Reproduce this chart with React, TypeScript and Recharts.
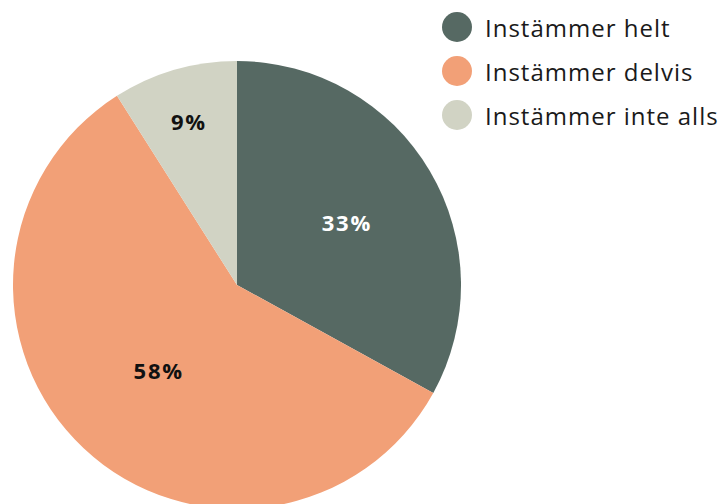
import React from "react";
import { PieChart, Pie, Cell, Legend } from "recharts";

const LABELS = ["Instämmer helt", "Instämmer delvis", "Instämmer inte alls"];
const VALUES = [33, 58, 9];
const COLORS = ["#566963", "#F2A077", "#D1D3C4"];
const LABEL_COLORS = ["#ffffff", "#111111", "#111111"];
// how far out each percent label sits, as a share of the radius
const LABEL_RADIUS = [0.57, 0.51, 0.77];

const data = LABELS.map((name, i) => ({ name, value: VALUES[i] }));

const FONT = "'Open Sans', sans-serif";
const RADIAN = Math.PI / 180;

const renderLabel = (props: any) => {
  const { cx, cy, midAngle, outerRadius, index, percent } = props;
  const r = outerRadius * LABEL_RADIUS[index];
  const x = cx + r * Math.cos(-midAngle * RADIAN);
  const y = cy + r * Math.sin(-midAngle * RADIAN);
  return (
    <text
      x={x}
      y={y + 2}
      fill={LABEL_COLORS[index]}
      textAnchor="middle"
      dominantBaseline="central"
      fontFamily={FONT}
      fontWeight={700}
      fontSize={22}
      letterSpacing={1.8}
    >
      {`${Math.round(percent * 100)}%`}
    </text>
  );
};

const renderLegend = () => (
  <div style={{ fontFamily: FONT }}>
    {data.map((d, i) => (
      <div
        key={d.name}
        style={{ display: "flex", alignItems: "center", height: 44 }}
      >
        <span
          style={{
            width: 30,
            height: 30,
            borderRadius: "50%",
            background: COLORS[i],
            display: "inline-block",
            marginRight: 13,
          }}
        />
        <span
          style={{
            fontSize: 24,
            letterSpacing: 1,
            color: "#1a1a1a",
            whiteSpace: "nowrap",
          }}
        >
          {d.name}
        </span>
      </div>
    ))}
  </div>
);

export default function App() {
  return (
    <div style={{ position: "absolute", left: 0, top: 0, width: 724, height: 504, background: "#fff" }}>
      <PieChart width={724} height={504} margin={{ top: 0, right: 0, bottom: 0, left: 0 }}>
        <Pie
          data={data}
          dataKey="value"
          nameKey="name"
          cx={237}
          cy={285}
          outerRadius={224}
          startAngle={90}
          endAngle={-270}
          stroke="none"
          label={renderLabel}
          labelLine={false}
          isAnimationActive={false}
        >
          {data.map((d, i) => (
            <Cell key={d.name} fill={COLORS[i]} />
          ))}
        </Pie>
        <Legend
          content={renderLegend}
          layout="vertical"
          verticalAlign="top"
          align="right"
          wrapperStyle={{ left: 442, top: 5, width: 290 }}
        />
      </PieChart>
    </div>
  );
}
